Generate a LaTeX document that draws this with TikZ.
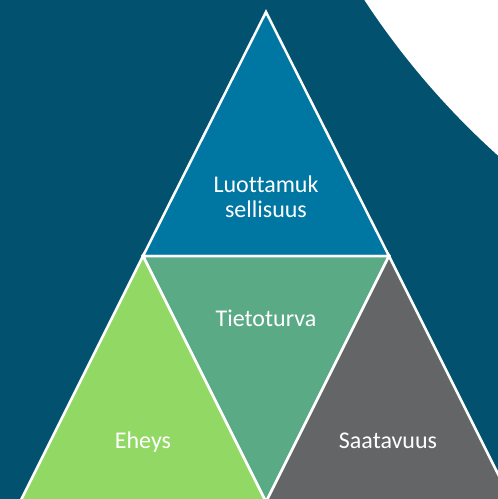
\documentclass[tikz,border=0pt]{standalone}
\usepackage{fontspec}
\setmainfont{Carlito}[Ligatures=NoCommon]
\definecolor{bgc}{RGB}{2,81,110}
\definecolor{topc}{RGB}{0,118,163}
\definecolor{midc}{RGB}{91,170,134}
\definecolor{leftc}{RGB}{146,216,100}
\definecolor{rightc}{RGB}{100,101,103}
\begin{document}
\begin{tikzpicture}[x=1pt,y=-1pt,
  tri/.style={draw=white,line width=2.5pt,line join=miter},
  lbl/.style={text=white,font=\fontsize{24}{25}\selectfont,align=center,anchor=base,inner sep=0pt}]
\useasboundingbox (0,0) rectangle (498,499);
\clip (0,0) rectangle (498,499);
\fill[bgc] (0,0) rectangle (498,499);
\fill[white] (1031,-437) circle (797);
\coordinate (A) at (266,12);
\coordinate (L) at (143,256);
\coordinate (R) at (389,256);
\coordinate (BL) at (20,502);
\coordinate (BC) at (266,502);
\coordinate (BR) at (512,502);
\filldraw[tri,fill=topc] (A) -- (R) -- (L) -- cycle;
\filldraw[tri,fill=midc] (L) -- (R) -- (BC) -- cycle;
\filldraw[tri,fill=leftc] (L) -- (BC) -- (BL) -- cycle;
\filldraw[tri,fill=rightc] (R) -- (BR) -- (BC) -- cycle;
\node[lbl] (top) at (266,217) {Luottamuk\\sellisuus};
\node[lbl] (mid) at (266,326) {Tietoturva};
\node[lbl] (left) at (143,448) {Eheys};
\node[lbl] (right) at (388,448) {Saatavuus};
\end{tikzpicture}
\end{document}
